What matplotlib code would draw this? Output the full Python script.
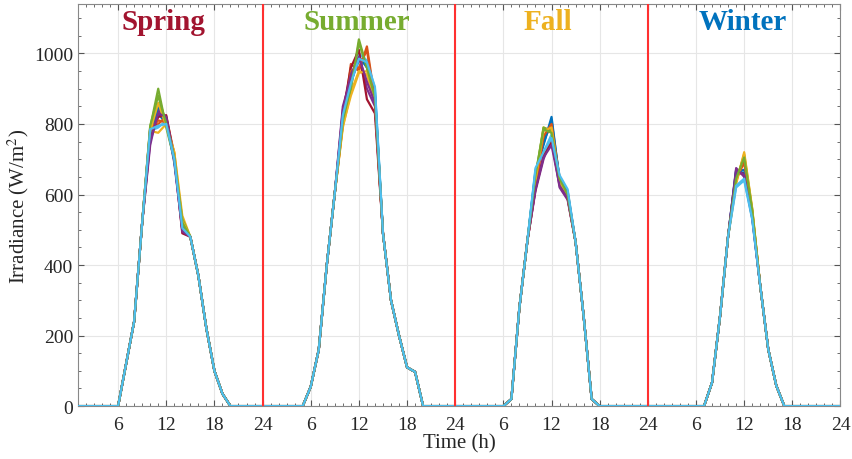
import matplotlib
matplotlib.use("Agg")
import matplotlib.pyplot as plt
import numpy as np
from matplotlib.ticker import MultipleLocator

plt.rcParams['font.family'] = ['Liberation Serif', 'DejaVu Serif']
plt.rcParams['mathtext.fontset'] = 'stix'

# one day per season, hours 1..24 each, four seasons side by side
seasons = ["Spring", "Summer", "Fall", "Winter"]
season_colors = ["#A2142F", "#77AC30", "#EDB120", "#0072BD"]
title_x = [11.7, 35.8, 59.5, 83.8]

# spring: hours 6..20, hours 10..14 differ per day
spring_start = 6
spring_before = [0, 120, 240, 520]
spring_peak = [
    [770, 830, 800, 700, 520],
    [790, 800, 820, 715, 500],
    [780, 775, 800, 720, 540],
    [740, 840, 810, 690, 500],
    [790, 900, 790, 700, 530],
    [780, 790, 810, 700, 510],
    [760, 820, 825, 705, 490],
    [775, 850, 815, 695, 515],
    [785, 810, 805, 710, 505],
    [780, 860, 795, 720, 525],
    [750, 830, 820, 700, 495],
    [795, 880, 800, 705, 520],
    [785, 795, 800, 700, 505],
]
spring_after = [480, 370, 220, 100, 35, 0]

# summer: hours 5..20, hours 10..14 differ per day
summer_start = 5
summer_before = [0, 55, 160, 400, 605]
summer_peak = [
    [820, 920, 990, 960, 880],
    [800, 970, 950, 1020, 870],
    [790, 890, 950, 940, 860],
    [850, 930, 1000, 900, 850],
    [810, 900, 1040, 960, 880],
    [820, 910, 1000, 980, 900],
    [830, 960, 1010, 870, 830],
    [815, 920, 980, 970, 890],
    [800, 950, 960, 1010, 860],
    [795, 880, 945, 950, 870],
    [840, 940, 990, 920, 860],
    [810, 905, 1030, 960, 875],
    [825, 915, 985, 975, 905],
]
summer_after = [490, 300, 200, 110, 97, 0]

# fall: hours 6..18, hours 10..14 differ per day
fall_start = 6
fall_before = [0, 20, 280, 470]
fall_peak = [
    [660, 740, 820, 640, 600],
    [620, 760, 790, 650, 610],
    [640, 790, 780, 630, 590],
    [610, 700, 760, 620, 585],
    [650, 790, 780, 640, 600],
    [670, 720, 770, 650, 610],
    [615, 710, 750, 630, 590],
    [665, 745, 810, 645, 605],
    [625, 765, 800, 640, 600],
    [640, 780, 790, 635, 595],
    [615, 705, 740, 625, 590],
    [655, 785, 775, 645, 600],
    [675, 720, 760, 655, 615],
]
fall_after = [465, 255, 20, 0]

# winter: hours 7..17, hours 11..13 differ per day
winter_start = 7
winter_before = [0, 67, 256, 482]
winter_peak = [
    [670, 660, 540],
    [640, 700, 550],
    [630, 720, 560],
    [675, 650, 535],
    [640, 710, 555],
    [620, 640, 530],
    [660, 660, 540],
    [665, 670, 545],
    [645, 690, 550],
    [635, 715, 560],
    [670, 655, 535],
    [645, 705, 555],
    [625, 645, 530],
]
winter_after = [341, 161, 58, 0]

season_data = [
    (spring_start, spring_before, spring_peak, spring_after),
    (summer_start, summer_before, summer_peak, summer_after),
    (fall_start, fall_before, fall_peak, fall_after),
    (winter_start, winter_before, winter_peak, winter_after),
]

tick_labels = ["6", "12", "18", "24"] * 4
matlab_colors = ["#0072BD", "#D95319", "#EDB120", "#7E2F8E",
                 "#77AC30", "#4DBEEE", "#A2142F"]

hours = np.arange(1, 97)
n_series = len(spring_peak)

series = []
for i in range(n_series):
    y = np.zeros(96)
    for s, (start, before, peak, after) in enumerate(season_data):
        day = before + peak[i] + after
        for k, v in enumerate(day):
            h = start + k
            y[24 * s + h - 1] = v
    series.append(y)

fig = plt.figure(figsize=(8.52, 4.6), dpi=100)
ax = fig.add_axes([0.0915, 0.115, 0.895, 0.874])

for i, y in enumerate(series):
    ax.plot(hours, y, color=matlab_colors[i % 7], lw=1.6, zorder=3)

for s in range(1, 4):
    ax.axvline(24 * s, color='#FF3030', lw=1.5, zorder=4)

for s in range(4):
    ax.text(title_x[s], 1090, seasons[s], color=season_colors[s],
            fontsize=21, fontweight='bold', ha='center', va='center')

ax.set_xlim(1, 96)
ax.set_ylim(0, 1140)
ax.set_xticks(np.arange(6, 97, 6))
ax.set_xticklabels(tick_labels)
ax.set_yticks(np.arange(0, 1001, 200))
ax.xaxis.set_minor_locator(MultipleLocator(1))
ax.yaxis.set_minor_locator(MultipleLocator(50))

ax.grid(True, which='major', color='#e6e6e6', lw=0.8, zorder=0)
ax.tick_params(which='both', direction='in', top=True, right=True,
               colors='#555555', labelcolor='#262626', labelsize=14)
ax.tick_params(axis='x', which='major', pad=7)
ax.tick_params(which='major', length=4)
ax.tick_params(which='minor', length=2.5)
for sp in ax.spines.values():
    sp.set_color('#888888')
    sp.set_linewidth(0.8)

ax.set_xlabel('Time (h)', fontsize=15, color='#262626', labelpad=0)
ax.set_ylabel('Irradiance (W/m$^2$)', fontsize=15, color='#262626', labelpad=2)

fig.savefig('out.png', dpi=100)
